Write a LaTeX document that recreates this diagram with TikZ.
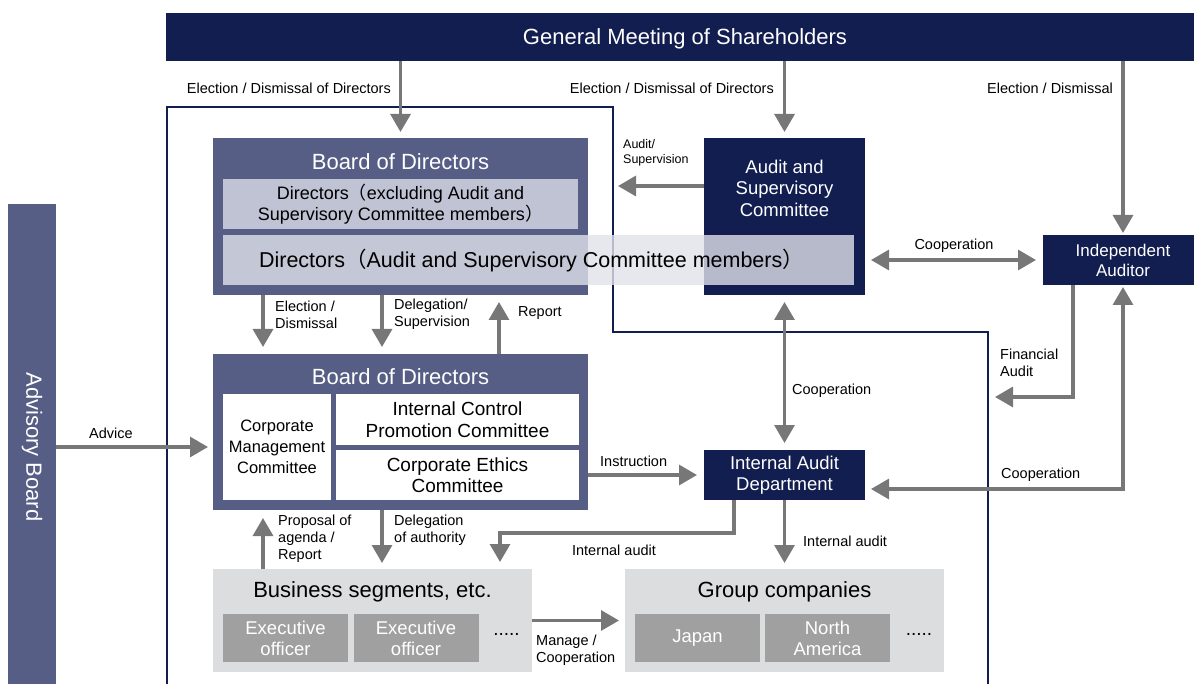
\documentclass[tikz,border=0pt]{standalone}
\usepackage{fontspec}
\setmainfont{Liberation Sans}
\newfontfamily\cjkfont{Noto Sans CJK JP}
\usetikzlibrary{arrows.meta}
\definecolor{navy}{RGB}{18,30,80}
\definecolor{slate}{RGB}{86,94,133}
\definecolor{lilac}{RGB}{192,195,212}
\definecolor{paleblue}{RGB}{224,226,234}
\definecolor{arrgray}{RGB}{119,119,119}
\definecolor{lightgray}{RGB}{220,221,222}
\definecolor{midgray}{RGB}{160,160,160}
\newcommand{\fsz}[2]{\fontsize{#1}{#2}\selectfont}
\newcommand{\lp}{{\cjkfont （}}
\newcommand{\rp}{{\cjkfont ）}}

\begin{document}
\begin{tikzpicture}[x=1pt,y=-1pt,line join=miter,
  box/.style={rectangle,inner sep=0pt,outer sep=0pt,align=center},
  navybox/.style={box,fill=navy,text=white},
  slatebox/.style={box,fill=slate},
  graybox/.style={box,fill=lightgray},
  officer/.style={box,fill=midgray,text=white,minimum width=125pt,minimum height=48pt,font=\fsz{18.5}{21}},
  lbl/.style={inner sep=0pt,align=left,font=\fsz{14.5}{17}},
  arr/.style={draw=arrgray,line width=3.2pt,-{Triangle[length=18pt,width=20pt]}},
  dblarr/.style={draw=arrgray,line width=3.2pt,{Triangle[length=18pt,width=20pt]}-{Triangle[length=18pt,width=20pt]}},
  frame/.style={draw=navy,line width=1.3pt}]
  \useasboundingbox (0,0) rectangle (1194,684);
  \clip (0,0) rectangle (1194,684);
  \draw[frame] (167,700) -- (167,107) -- (613,107) -- (613,332) -- (988,332) -- (988,700);

  \node[navybox,minimum width=1038pt,minimum height=48pt,text height=15pt,text depth=0pt,font=\fsz{22}{26}] (gms) at (685,37) {General Meeting of Shareholders};

  \node[slatebox,minimum width=375pt,minimum height=157pt] (bod1) at (400.5,216.5) {};
  \node[box,text=white,font=\fsz{22}{26}] (bod1title) at (400.5,162) {Board of Directors};
  \node[box,fill=lilac,minimum width=355pt,minimum height=50pt,font=\fsz{18}{21.5}] (dirx) at (400.5,204) {Directors\lp excluding Audit and\\Supervisory Committee members\rp};
  \node[navybox,minimum width=161pt,minimum height=157pt] (asc) at (784.5,216.5) {};
  \node[box,text=white,font=\fsz{18.5}{21.5}] (asctext) at (784.5,188) {Audit and\\Supervisory\\Committee};
  \node[box,fill=paleblue,fill opacity=0.8,minimum width=631pt,minimum height=50pt] (dira) at (538.5,260) {};
  \node[box,font=\fsz{21.5}{25}] (diratext) at (531.5,260.5) {Directors\lp Audit and Supervisory Committee members\rp};
  \node[navybox,minimum width=160pt,minimum height=50pt,font=\fsz{17}{20}] (ia) at (1123,260) {Independent\\Auditor};

  \node[slatebox,minimum width=375pt,minimum height=156pt] (bod2) at (400.5,432) {};
  \node[box,text=white,font=\fsz{22}{26}] (bod2title) at (400.5,377) {Board of Directors};
  \node[box,fill=white,minimum width=108pt,minimum height=106pt,font=\fsz{16.5}{21}] (cmc) at (277,447) {Corporate\\Management\\Committee};
  \node[box,fill=white,minimum width=243pt,minimum height=51pt,font=\fsz{19}{21.5}] (icpc) at (457.5,419.5) {Internal Control\\Promotion Committee};
  \node[box,fill=white,minimum width=243pt,minimum height=50pt,font=\fsz{19}{21.5}] (cec) at (457.5,475) {Corporate Ethics\\Committee};
  \node[navybox,minimum width=161pt,minimum height=50pt,font=\fsz{18.5}{21.5}] (iad) at (784.5,475) {Internal Audit\\Department};

  \node[slatebox,minimum width=48pt,minimum height=486pt] (adv) at (32,447) {};
  \node[box,text=white,rotate=-90,font=\fsz{22}{26}] (advtext) at (32,447) {Advisory Board};

  \node[graybox,minimum width=319pt,minimum height=103pt] (bs) at (372.5,620.5) {};
  \node[box,font=\fsz{22}{26}] (bstitle) at (372.5,592) {Business segments, etc.};
  \node[officer] (eo1) at (285.5,638) {Executive\\officer};
  \node[officer] (eo2) at (416,638) {Executive\\officer};
  \node[box,font=\fsz{19}{22}] (bsdots) at (506.5,634) {.....};
  \node[graybox,minimum width=319pt,minimum height=103pt] (gc) at (784.5,620.5) {};
  \node[box,font=\fsz{22}{26}] (gctitle) at (784.5,592) {Group companies};
  \node[officer] (jp) at (697.5,638) {Japan};
  \node[officer] (na) at (827.5,638) {North\\America};
  \node[box,font=\fsz{19}{22}] (gcdots) at (919,634) {.....};

  \coordinate (colA) at (263,0);
  \coordinate (colB) at (382,0);
  \coordinate (colC) at (499,0);
  \coordinate (colD) at (734,0);
  \coordinate (colE) at (1073,0);
  \coordinate (coopy) at (0,489);
  \coordinate (audtip) at (618,186);
  \coordinate (fatip) at (995,397);
  \coordinate (iacorner) at (500,533);

  \draw[arr,shorten >=6pt] (gms.south -| bod1.north) -- (bod1.north);
  \draw[arr,shorten >=6pt] (gms.south -| asc.north) -- (asc.north);
  \draw[arr,shorten >=2pt] (gms.south -| ia.north) -- (ia.north);
  \draw[arr] (asc.west |- audtip) -- (audtip);
  \draw[dblarr,shorten <=6pt,shorten >=7pt] (asc.east |- ia.west) -- (ia.west);
  \draw[arr] (ia.south -| colE) |- (fatip);
  \draw[dblarr,shorten <=2pt,shorten >=6pt] (ia.south) |- (iad.east |- coopy);
  \draw[dblarr,shorten <=7pt,shorten >=7pt] (asc.south) -- (iad.north);
  \draw[arr,shorten >=7pt] (bod2.east |- iad.west) -- (iad.west);
  \draw[arr,shorten >=7pt] (iad.south -| colD) |- (iacorner) -- (iacorner |- bs.north);
  \draw[arr,shorten >=6pt] (iad.south) -- (iad.south |- gc.north);
  \draw[arr,shorten >=7pt] (bod1.south -| colA) -- (bod2.north -| colA);
  \draw[arr,shorten >=7pt] (bod1.south -| colB) -- (bod2.north -| colB);
  \draw[arr,shorten >=7pt] (bod2.north -| colC) -- (bod1.south -| colC);
  \draw[arr,shorten >=5pt] (adv.east) -- (adv.east -| bod2.west);
  \draw[arr,shorten >=8pt] (bs.north -| colA) -- (bod2.south -| colA);
  \draw[arr,shorten >=6pt] (bod2.south -| colB) -- (bs.north -| colB);
  \draw[arr,shorten >=6pt] (bs.east) -- (gc.west);

  \node[lbl,anchor=east] (l1) at (391,88) {Election / Dismissal of Directors};
  \node[lbl,anchor=east] (l2) at (774,88) {Election / Dismissal of Directors};
  \node[lbl,anchor=east] (l3) at (1113,88) {Election / Dismissal};
  \node[lbl,anchor=west,font=\fsz{12.5}{15}] (l4) at (623,152.5) {Audit/\\Supervision};
  \node[lbl] (l5) at (954,246) {Cooperation};
  \node[lbl,anchor=west] (l6) at (1000,362.5) {Financial\\Audit};
  \node[lbl,anchor=west] (l7) at (792,391) {Cooperation};
  \node[lbl,anchor=west] (l8) at (600,461) {Instruction};
  \node[lbl,anchor=west] (l9) at (1001,475) {Cooperation};
  \node[lbl,anchor=west] (l10) at (275,314.5) {Election /\\Dismissal};
  \node[lbl,anchor=west] (l11) at (394,314.5) {Delegation/\\Supervision};
  \node[lbl,anchor=west] (l12) at (518,313) {Report};
  \node[lbl] (l13) at (111,433) {Advice};
  \node[lbl,anchor=west] (l14) at (278,539) {Proposal of\\agenda /\\Report};
  \node[lbl,anchor=west] (l15) at (394,530.5) {Delegation\\of authority};
  \node[lbl] (l16) at (614,550) {Internal audit};
  \node[lbl,anchor=west] (l17) at (803,541) {Internal audit};
  \node[lbl,anchor=west] (l18) at (536,650.5) {Manage /\\Cooperation};
\end{tikzpicture}
\end{document}
